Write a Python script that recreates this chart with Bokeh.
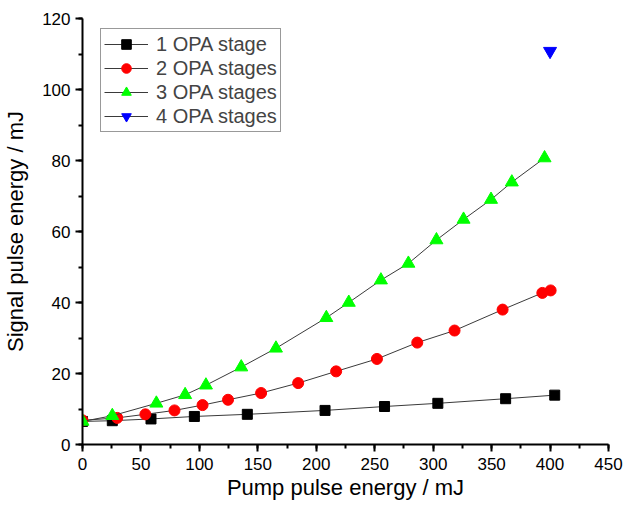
from bokeh.plotting import figure
from bokeh.models import Range1d, Legend, LegendItem, SingleIntervalTicker
from bokeh.embed import file_html
from bokeh.resources import INLINE

# Data
x1 = [0, 25.5, 58.6, 95.7, 141, 207.5, 258.4, 304, 362, 404]
y1 = [6.5, 6.7, 7.2, 7.9, 8.5, 9.6, 10.7, 11.6, 12.9, 13.9]

x2 = [0, 29.7, 53.8, 78.7, 102.7, 124.5, 152.8, 184.5, 217, 251.9, 286.4, 318.3, 359.4, 393.4, 400.5]
y2 = [6.8, 7.5, 8.5, 9.6, 11.1, 12.6, 14.5, 17.3, 20.6, 24.1, 28.7, 32.1, 38.0, 42.7, 43.4]

x3 = [0, 25.5, 63.2, 87.8, 105.6, 135.8, 165.5, 208.6, 227.8, 255.3, 278.8, 302.8, 326, 349.5, 367.3, 395.3]
y3 = [6.5, 8.1, 11.6, 14.0, 16.7, 21.8, 27.1, 35.7, 40.0, 46.3, 51.0, 57.6, 63.4, 69.0, 73.9, 80.7]

x4 = [400]
y4 = [110.8]

labels = ["1 OPA stage", "2 OPA stages", "3 OPA stages", "4 OPA stages"]

FONT = "Liberation Sans"

p = figure(width=623, height=503, output_backend="svg", toolbar_location=None,
           x_range=Range1d(0, 450), y_range=Range1d(0, 120),
           min_border_left=78, min_border_right=15, min_border_top=18, min_border_bottom=59)

p.xgrid.visible = False
p.ygrid.visible = False
p.outline_line_color = None
p.background_fill_color = "white"
p.border_fill_color = "white"

line_col = "#3a3a3a"
series = [
    (x1, y1, "square", "black", 10),
    (x2, y2, "circle", "red", 11),
    (x3, y3, "triangle", "#00ff00", 13),
    (x4, y4, "inverted_triangle", "blue", 13),
]
items = []
for (xs, ys, mk, col, sz), lab in zip(series, labels):
    ln = p.line(xs, ys, line_color=line_col, line_width=1)
    sc = p.scatter(xs, ys, marker=mk, size=sz, fill_color=col, line_color=col)
    items.append(LegendItem(label=lab, renderers=[ln, sc]))

legend = Legend(items=items, location=(18, 312))
legend.label_text_font = FONT
legend.label_text_font_size = "20px"
legend.glyph_width = 44
legend.glyph_height = 24
legend.label_height = 24
legend.spacing = 0
legend.padding = 3
legend.label_standoff = 8
legend.border_line_color = "#333333"
legend.border_line_width = 1
legend.background_fill_alpha = 1
p.add_layout(legend, "center")

for ax in (p.xaxis[0], p.yaxis[0]):
    ax.axis_line_width = 2
    ax.axis_line_color = "black"
    ax.major_tick_line_width = 2
    ax.minor_tick_line_width = 2
    ax.major_tick_line_color = "black"
    ax.minor_tick_line_color = "black"
    ax.major_tick_out = 7
    ax.major_tick_in = 0
    ax.minor_tick_out = 4
    ax.minor_tick_in = 0
    ax.major_label_text_font = FONT
    ax.major_label_text_font_size = "17px"
    ax.major_label_text_color = "black"
    ax.axis_label_text_font = FONT
    ax.axis_label_text_font_size = "22px"
    ax.axis_label_text_font_style = "normal"
    ax.axis_label_text_color = "black"

p.xaxis[0].ticker = SingleIntervalTicker(interval=50, num_minor_ticks=2)
p.yaxis[0].ticker = SingleIntervalTicker(interval=20, num_minor_ticks=2)
p.xaxis[0].axis_label = "Pump pulse energy / mJ"
p.yaxis[0].axis_label = "Signal pulse energy / mJ"
p.xaxis[0].major_label_standoff = 6
p.yaxis[0].major_label_standoff = 5
p.xaxis[0].axis_label_standoff = 2
p.yaxis[0].axis_label_standoff = 11

open("out.html", "w").write(file_html(p, INLINE))
